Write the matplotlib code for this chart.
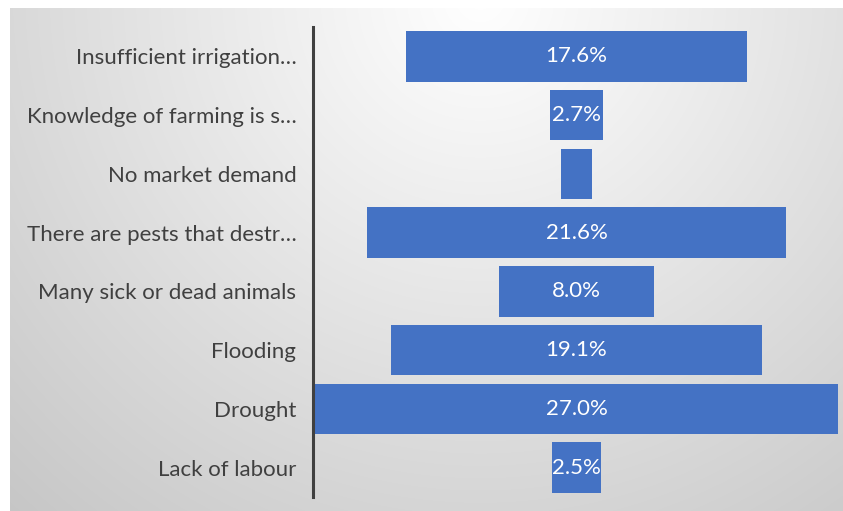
import matplotlib.pyplot as plt
import numpy as np

categories = ["Insufficient irrigation…", "Knowledge of farming is s…", "No market demand",
              "There are pests that destr…", "Many sick or dead animals", "Flooding",
              "Drought", "Lack of labour"]
values = [17.6, 2.7, 1.6, 21.6, 8.0, 19.1, 27.0, 2.5]
labels = ["17.6%", "2.7%", "", "21.6%", "8.0%", "19.1%", "27.0%", "2.5%"]

W, H = 843, 511
fig = plt.figure(figsize=(W / 100, H / 100), dpi=100)
fig.patch.set_facecolor("white")

# radial grey gradient background
bg = fig.add_axes([10 / W, 0, (W - 10) / W, (H - 8) / H])
bg.axis("off")
xx, yy = np.meshgrid(np.arange(W - 10), np.arange(H - 8))
r = np.hypot(xx - 470, yy + 10)
shade = 1 - 0.22 * np.clip(r / 690, 0, 1)
bg.imshow(np.dstack([shade] * 3), aspect="auto", extent=[0, 1, 0, 1], zorder=0)

ax = fig.add_axes([313 / W, 14 / H, 527 / W, 470 / H])
ax.patch.set_alpha(0)
y = np.arange(len(values))
v = np.array(values)
ax.barh(y, v, left=-v / 2, height=0.86, color="#4472C4")
for yi, lab in zip(y, labels):
    if lab:
        ax.text(0, yi, lab, ha="center", va="center", color="white",
                fontsize=16, family="Lato")

ax.set_xlim(-13.6, 13.6)
ax.set_ylim(len(values) - 0.5, -0.5)
ax.set_yticks(y)
ax.set_yticklabels(categories, fontsize=16, family="Lato", color="#404040")
ax.tick_params(axis="y", length=0, pad=12)
ax.set_xticks([])
for s in ["top", "right", "bottom"]:
    ax.spines[s].set_visible(False)
ax.spines["left"].set_color("#404040")
ax.spines["left"].set_linewidth(2.2)

fig.savefig("out.png", dpi=100)
